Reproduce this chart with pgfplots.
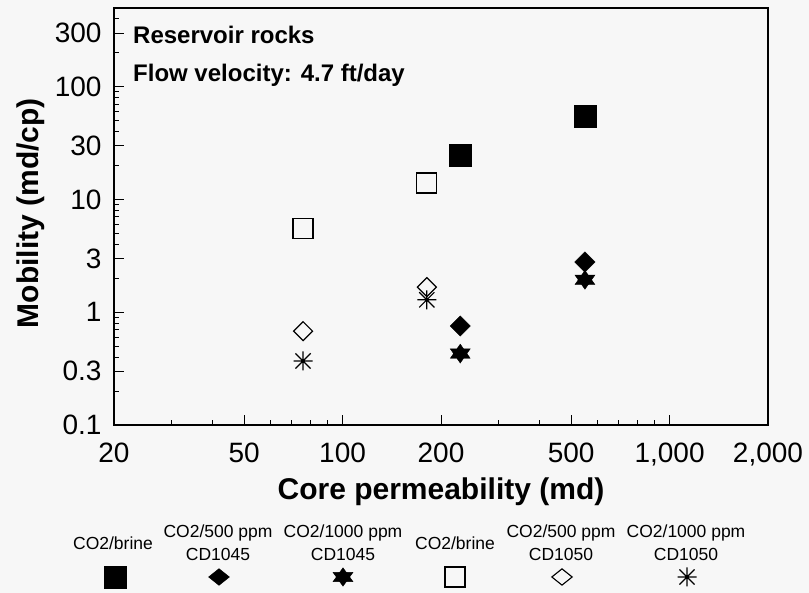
\documentclass[border=0pt]{standalone}
\usepackage{fontspec}
\setmainfont{Liberation Sans}
\usepackage{pgfplots}
\pgfplotsset{compat=1.18}
\definecolor{bg}{RGB}{247,247,247}

\pgfdeclareplotmark{hexagram}{%
 \pgfpathmoveto{\pgfqpoint{0pt}{\pgfplotmarksize}}%
 \pgfpathlineto{\pgfqpoint{0.866\pgfplotmarksize}{-0.5\pgfplotmarksize}}%
 \pgfpathlineto{\pgfqpoint{-0.866\pgfplotmarksize}{-0.5\pgfplotmarksize}}%
 \pgfpathclose
 \pgfpathmoveto{\pgfqpoint{0pt}{-\pgfplotmarksize}}%
 \pgfpathlineto{\pgfqpoint{-0.866\pgfplotmarksize}{0.5\pgfplotmarksize}}%
 \pgfpathlineto{\pgfqpoint{0.866\pgfplotmarksize}{0.5\pgfplotmarksize}}%
 \pgfpathclose
 \pgfusepathqfillstroke}

\pgfdeclareplotmark{aster8}{%
 \pgfpathmoveto{\pgfqpoint{-\pgfplotmarksize}{0pt}}\pgfpathlineto{\pgfqpoint{\pgfplotmarksize}{0pt}}%
 \pgfpathmoveto{\pgfqpoint{0pt}{-\pgfplotmarksize}}\pgfpathlineto{\pgfqpoint{0pt}{\pgfplotmarksize}}%
 \pgfpathmoveto{\pgfqpoint{-0.8\pgfplotmarksize}{-0.8\pgfplotmarksize}}\pgfpathlineto{\pgfqpoint{0.8\pgfplotmarksize}{0.8\pgfplotmarksize}}%
 \pgfpathmoveto{\pgfqpoint{-0.8\pgfplotmarksize}{0.8\pgfplotmarksize}}\pgfpathlineto{\pgfqpoint{0.8\pgfplotmarksize}{-0.8\pgfplotmarksize}}%
 \pgfusepathqstroke}

\begin{document}
\begin{tikzpicture}
\fill[bg] (-114pt,-168pt) rectangle (695pt,425pt);
\useasboundingbox (-114pt,-168pt) rectangle (695pt,425pt);
\begin{axis}[
  at={(0pt,0pt)}, anchor=south west,
  scale only axis, width=654pt, height=417pt,
  xmode=log, ymode=log,
  xmin=20, xmax=2000, ymin=0.1, ymax=500,
  xtick={20,50,100,200,500,1000,2000},
  xticklabels={20,50,100,200,500,{1,000},{2,000}},
  ytick={0.1,0.3,1,3,10,30,100,300},
  yticklabels={0.1,0.3,1,3,10,30,100,300},
  minor xtick={30,40,60,70,80,90,300,400,600,700,800,900},
  minor ytick={0.2,0.4,0.5,0.6,0.7,0.8,0.9,2,4,5,6,7,8,9,20,40,50,60,70,80,90,200,400},
  tick pos=left, tick align=inside,
  major tick length=10pt, minor tick length=5pt,
  axis line style={line width=1.5pt},
  every tick/.style={black, line width=1pt},
  /pgf/number format/assume math mode=true,
  tick label style={font=\fontsize{28}{28}\selectfont},
  xticklabel style={yshift=-14pt},
  yticklabel style={xshift=-9pt},
  xlabel={Core permeability (md)},
  xlabel style={at={(axis description cs:0.5,-0.161)}, anchor=center, font=\bfseries\fontsize{30}{30}\selectfont},
  ylabel={Mobility (md/cp)},
  ylabel style={at={(axis description cs:-0.128,0.508)}, anchor=center, font=\bfseries\fontsize{30}{30}\selectfont},
  clip=false,
]
\addplot[only marks, mark=square*, mark size=11pt, mark options={fill=black, draw=black}] coordinates {(229,24.9) (551,55.2)};
\addplot[only marks, mark=square*, mark size=7.2pt, mark options={rotate=45, fill=black, draw=black}] coordinates {(229,0.755) (551,2.79)};
\addplot[only marks, mark=hexagram, mark size=11.5pt, mark options={yscale=0.82, fill=black, draw=black}] coordinates {(229,0.43) (551,1.94)};
\addplot[only marks, mark=square, mark size=10pt, mark options={draw=black, line width=1.2pt}] coordinates {(75.7,5.5) (181,14.0)};
\addplot[only marks, mark=square, mark size=6.7pt, mark options={rotate=45, draw=black, line width=1.2pt}] coordinates {(75.7,0.68) (181,1.67)};
\addplot[only marks, mark=aster8, mark size=9.5pt, mark options={draw=black, line width=1.2pt}] coordinates {(75.7,0.37) (181,1.29)};
\node[anchor=base west, inner sep=0pt, font=\bfseries\fontsize{24}{24}\selectfont] at (rel axis cs:0.029,0.916) {Reservoir rocks};
\node[anchor=base west, inner sep=0pt, font=\bfseries\fontsize{24}{24}\selectfont] at (rel axis cs:0.029,0.823) {Flow velocity: 4.7 ft/day};
\end{axis}
\begin{axis}[
  at={(0pt,-168pt)}, anchor=south west,
  scale only axis, width=654pt, height=168pt,
  xmin=114, xmax=768, ymin=-593, ymax=-425,
  hide axis, clip=false,
]
\addplot[only marks, mark=square*, mark size=11pt, mark options={fill=black, draw=black}] coordinates {(115,-577)};
\addplot[only marks, mark=square*, mark size=7.4pt, mark options={yscale=0.8, rotate=45, fill=black, draw=black}] coordinates {(219,-577)};
\addplot[only marks, mark=hexagram, mark size=11.5pt, mark options={yscale=0.8, fill=black, draw=black}] coordinates {(343,-577)};
\addplot[only marks, mark=square, mark size=10pt, mark options={draw=black, line width=1.1pt}] coordinates {(455,-577)};
\addplot[only marks, mark=square, mark size=7.2pt, mark options={yscale=0.8, rotate=45, draw=black, line width=1.1pt}] coordinates {(562,-577)};
\addplot[only marks, mark=aster8, mark size=9.5pt, mark options={draw=black, line width=1.1pt}] coordinates {(687,-577)};
\begin{scope}[every node/.style={font=\fontsize{17.5}{23}\selectfont, align=center, anchor=center}]
\node at (axis cs:113,-543) {CO2/brine};
\node at (axis cs:218,-543) {CO2/500 ppm\\CD1045};
\node at (axis cs:343,-543) {CO2/1000 ppm\\CD1045};
\node at (axis cs:455,-543) {CO2/brine};
\node at (axis cs:561,-543) {CO2/500 ppm\\CD1050};
\node at (axis cs:686,-543) {CO2/1000 ppm\\CD1050};
\end{scope}
\end{axis}
\end{tikzpicture}
\end{document}
